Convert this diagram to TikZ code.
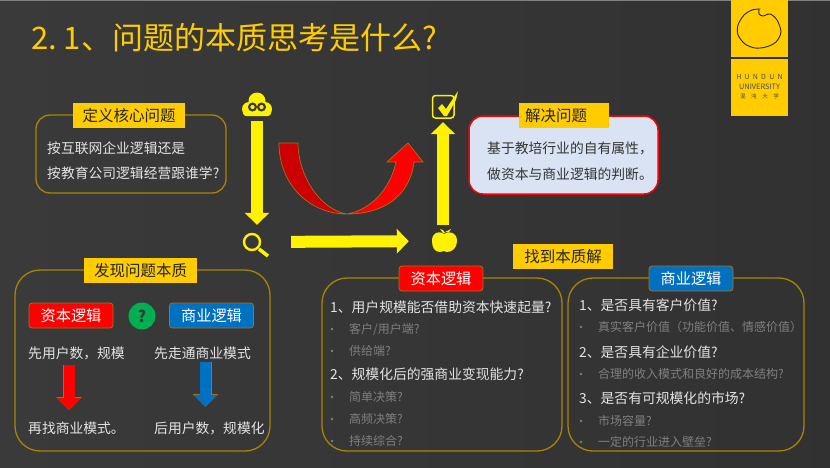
\documentclass[tikz,border=0pt]{standalone}
\usepackage{fontspec}
\setmainfont{Noto Sans CJK SC}
\usetikzlibrary{arrows.meta}
\definecolor{slide}{HTML}{3A3A3A}
\definecolor{gold}{HTML}{FFCC00}
\definecolor{frameline}{HTML}{A88600}
\definecolor{softwhite}{HTML}{E4E4E4}
\definecolor{softgray}{HTML}{7F7F7F}
\definecolor{capred}{HTML}{FF0000}
\definecolor{bizblue}{HTML}{0070C0}
\definecolor{edgebrown}{HTML}{A8701A}
\definecolor{solvefill}{HTML}{DAE3F3}
\definecolor{questgreen}{HTML}{00B050}
\tikzset{
  framebox/.style={draw=frameline, line width=1.3, rounded corners=#1},
  goldtag/.style={fill=gold, text=black!85, inner sep=0, font=\fontsize{15.5}{16}\selectfont},
  logictag/.style={fill=#1, draw=edgebrown, line width=0.8, rounded corners=3, text=white, inner sep=0,
    minimum width=84, minimum height=25, font=\fontsize{15.2}{16}\selectfont},
  bodytext/.style={anchor=west, inner sep=0, text=softwhite, font=\fontsize{13.8}{16}\selectfont},
  subtext/.style={anchor=west, inner sep=0, text=softgray, font=\fontsize{12}{14}\selectfont},
  logotext/.style={inner sep=0, text=black!70, font=\fontsize{#1}{8}\selectfont},
  iconbox/.style={inner sep=0},
  bigarrow/.style={yellow, line width=12, -{Triangle[length=12,width=24]}},
  logicarrow/.style={#1, line width=11, -{Triangle[length=12,width=23]},
    preaction={draw=edgebrown, line width=12, -{Triangle[length=13,width=25]}}},
}
\begin{document}
\begin{tikzpicture}[x=1pt,y=-1pt]
\useasboundingbox (0,0) rectangle (830,467);
\shade[left color=slide!100!white, right color=slide!85!black] (0,0) rectangle (830,467);
\draw[gray, line width=1] (0,0.5) -- (830,0.5);

% Title
\node[anchor=west, inner sep=0, text=gold, font=\fontsize{31}{34}\selectfont] (title) at (31,38) {2.\kern7pt 1、问题的本质思考是什么?};

% Logo
\fill[gold] (731,0) rectangle (788,57);
\fill[gold] (731,59) rectangle (788,116);
\draw[black!85, line width=0.9, line cap=round] plot[smooth] coordinates {(759,10) (759,14) (763,16) (770,14) (777,20) (781,32) (776,42) (766,47) (755,48) (745,44) (738,35) (738,25) (744,15) (752,10) (760,9)};
\node[logotext=7] (logoa) at (759.5,77) {H\hspace{3.2pt}U\hspace{3.2pt}N\hspace{3.2pt}D\hspace{3.2pt}U\hspace{3.2pt}N};
\node[logotext=7.4] (logob) at (759.5,87) {UNIVERSITY};
\node[logotext=5.6] (logoc) at (759.5,96) {混\hspace{5.5pt}沌\hspace{5.5pt}大\hspace{5.5pt}学};

% Icons
\node[iconbox, minimum width=30, minimum height=30] (cloud) at (257,106) {};
\fill[yellow] (249,109) circle (7) (265,109) circle (7) (257,101) circle (8.5);
\fill[yellow, rounded corners=3] (243,106) rectangle (271,116);
\draw[slide, line width=2.1] (252.5,107) circle (3.4) (261.5,107) circle (3.4);
\node[iconbox, minimum width=68, minimum height=34] (lens) at (257,242) {};
\draw[yellow, line width=2.4] (252,242) circle (8);
\draw[yellow, line width=3.6] (259,249) -- (268,256);
\node[iconbox, minimum width=68, minimum height=32] (apple) at (443,241) {};
\fill[yellow] (444,234) .. controls (450,230) and (457,233) .. (457,241) .. controls (457,248) and (452,252) .. (447,252) .. controls (446,252) and (445,251) .. (444,251) .. controls (443,251) and (442,252) .. (440,252) .. controls (435,252) and (432,248) .. (432,241) .. controls (432,233) and (438,230) .. (444,234) -- cycle;
\fill[yellow] (443,233) -- (440,229) -- (443,230) -- (445,233) -- cycle (445,232) -- (451,229) -- (449,232) -- cycle;
\node[iconbox, minimum width=24, minimum height=32] (check) at (443,106) {};
\draw[yellow, line width=1.5, rounded corners=3] (432.5,95.5) rectangle (454,118);
\fill[yellow] (438,108) -- (442,104) -- (446,109) -- (458,91) -- (456,100) -- (447,116) -- (444,116) -- cycle;

% Path arrows
\draw[bigarrow] (cloud) -- (lens);
\draw[bigarrow] (lens) -- (apple);
\draw[bigarrow] (apple) -- (check);

% Red curved arrow
\draw[edgebrown, line width=0.7, fill=red!80!black] (279,143) -- (298,143) .. controls (298,175) and (320,210) .. (347,214) .. controls (310,214) and (279,185) .. cycle;
\draw[edgebrown, line width=0.7, fill=capred] (347,214) .. controls (385,214) and (410,195) .. (414,162) -- (423,162) -- (408,143) -- (387,162) -- (396,162) .. controls (390,190) and (370,210) .. (347,214) -- cycle;

% Define the problem
\draw[framebox=14] (36,115) rectangle (226,193);
\node[goldtag, minimum width=112, minimum height=25] (definetag) at (129,115.5) {定义核心问题};
\node[bodytext] (definea) at (47,148) {按互联网企业逻辑还是};
\node[bodytext] (defineb) at (47,173) {按教育公司逻辑经营跟谁学?};

% Solve the problem
\draw[draw=red, line width=1.5, fill=solvefill, rounded corners=14] (469,116) rectangle (658,194);
\node[goldtag, minimum width=90, minimum height=25, text width=78, align=left] (solvetag) at (564,115.5) {解决问题};
\node[bodytext, text=black!80] (solvea) at (487,148) {基于教培行业的自有属性，};
\node[bodytext, text=black!80] (solveb) at (487,174) {做资本与商业逻辑的判断。};

% Find the essence
\draw[framebox=25] (15,270) rectangle (270,451);
\node[goldtag, minimum width=113, minimum height=25] (essencetag) at (140.5,270.5) {发现问题本质};
\node[logictag=capred] (captag) at (71,315.5) {资本逻辑};
\node[logictag=bizblue] (biztag) at (211.5,315.5) {商业逻辑};
\node[circle, fill=questgreen, minimum size=27, inner sep=0, text=slide, font=\fontsize{16}{16}\selectfont\bfseries] (quest) at (142,316) {?};
\node[bodytext] (capa) at (28,353) {先用户数，规模};
\node[bodytext] (biza) at (154,353) {先走通商业模式};
\node[bodytext] (capb) at (28,428) {再找商业模式。};
\node[bodytext] (bizb) at (154,428) {后用户数，规模化};
\coordinate (captop) at (69,365);
\coordinate (capend) at (69,410);
\coordinate (biztop) at (205.5,362);
\coordinate (bizend) at (205.5,407);
\draw[logicarrow=capred] (captop) -- (capend);
\draw[logicarrow=bizblue] (biztop) -- (bizend);

% Essence answers
\node[goldtag, minimum width=100, minimum height=25] (answertag) at (563,256.5) {找到本质解};
\draw[framebox=25] (322,278) rectangle (562,451);
\draw[framebox=25] (568,278) rectangle (804,451);
\node[logictag=capred] (capbox) at (441,278.5) {资本逻辑};
\node[logictag=bizblue] (bizbox) at (691,278.5) {商业逻辑};

\foreach \y/\txt in {307/1、用户规模能否借助资本快速起量?, 374/2、规模化后的强商业变现能力?} {
  \node[bodytext] (caphead\y) at (330,\y) {\txt};
}
\foreach \y/\txt in {329/{客户/用户端?}, 351/供给端?, 397/简单决策?, 419/高频决策?, 441/持续综合?} {
  \node[subtext] (capsub\y) at (349,\y) {\txt};
  \fill[softgray] (332,\y) circle (1.4);
}
\foreach \y/\txt in {305/1、是否具有客户价值?, 352/2、是否具有企业价值?, 398/3、是否有可规模化的市场?} {
  \node[bodytext] (bizhead\y) at (579,\y) {\txt};
}
\foreach \y/\txt in {327/真实客户价值（功能价值、情感价值）, 374/合理的收入模式和良好的成本结构?, 421/市场容量?, 442/一定的行业进入壁垒?} {
  \node[subtext] (bizsub\y) at (598,\y) {\txt};
  \fill[softgray] (581,\y) circle (1.4);
}
\end{tikzpicture}
\end{document}
